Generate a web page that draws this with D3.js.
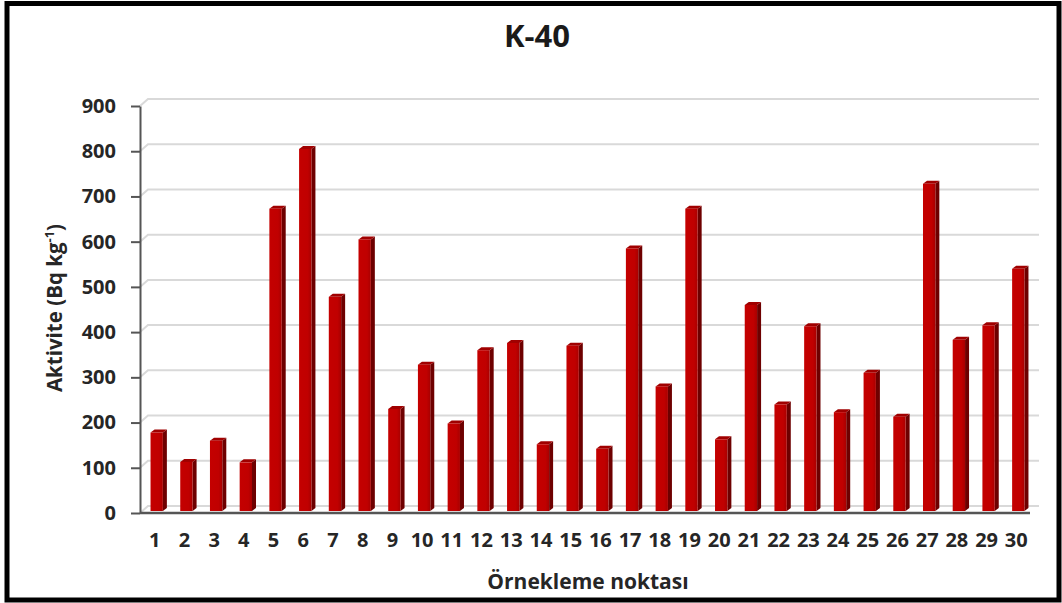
<!DOCTYPE html>
<html>
<head>
<meta charset="utf-8">
<script src="https://cdn.jsdelivr.net/npm/d3@7"></script>
<style>
  body { margin: 0; background: #fff; }
  svg text { font-family: "Open Sans", "Liberation Sans", sans-serif; font-weight: bold; }
</style>
</head>
<body>
<div id="chart"></div>
<script>
// data
var points = d3.range(1, 31).map(String);
var k40 = [178, 113, 160, 112, 673, 805, 478, 605, 230, 328,
           198, 360, 376, 152, 370, 142, 585, 280, 673, 163,
           460, 240, 413, 223, 310, 213, 728, 383, 415, 540];
var yTicks = [0, 100, 200, 300, 400, 500, 600, 700, 800, 900];

var width = 1062, height = 603;
var plotLeft = 140, plotRight = 1032, plotTop = 106, plotBottom = 513;
var wallDx = 8, wallDy = -7;   // depth of back wall
var barDx = 4, barDy = -3;     // depth of each bar

var svg = d3.select("#chart").append("svg")
    .attr("width", width).attr("height", height);

var defs = svg.append("defs");
var grad = defs.append("linearGradient").attr("id", "front")
    .attr("x1", 0).attr("x2", 1).attr("y1", 0).attr("y2", 0);
grad.append("stop").attr("offset", "0%").attr("stop-color", "#c40000");
grad.append("stop").attr("offset", "70%").attr("stop-color", "#c00000");
grad.append("stop").attr("offset", "100%").attr("stop-color", "#a80000");

var x = d3.scaleBand().domain(points).range([plotLeft + 1, plotRight]).paddingInner(0.45).paddingOuter(0.22);
var y = d3.scaleLinear().domain([0, 900]).range([plotBottom, plotTop]);

// gridlines on the back wall
svg.append("g").selectAll("path")
  .data(yTicks)
  .enter().append("path")
    .attr("d", function(t) {
      return "M" + plotLeft + "," + y(t) + "L" + (plotLeft + wallDx) + "," + (y(t) + wallDy) +
             "L" + (plotRight + 7) + "," + (y(t) + wallDy);
    })
    .attr("fill", "none")
    .attr("stroke", "#d9d9d9")
    .attr("stroke-width", 2);

// bars (sit a little deeper than the axis, hence the shift)
var bw = x.bandwidth() - barDx;
var base = plotBottom - 2;
var bars = svg.append("g")
    .attr("transform", "translate(3,0)")
  .selectAll("g")
  .data(k40)
  .enter().append("g");

bars.append("path")
    .attr("d", function(d, i) {
      var x0 = x(points[i]) + bw, yt = y(d);
      return "M" + x0 + "," + yt + "L" + (x0 + barDx) + "," + (yt + barDy) +
             "L" + (x0 + barDx) + "," + (base + barDy) + "L" + x0 + "," + base + "Z";
    })
    .attr("fill", "#6e0000");

bars.append("path")
    .attr("d", function(d, i) {
      var x0 = x(points[i]), yt = y(d);
      return "M" + x0 + "," + yt + "L" + (x0 + barDx) + "," + (yt + barDy) +
             "L" + (x0 + bw + barDx) + "," + (yt + barDy) + "L" + (x0 + bw) + "," + yt + "Z";
    })
    .attr("fill", "#a00000");

bars.append("rect")
    .attr("x", function(d, i) { return x(points[i]); })
    .attr("y", function(d) { return y(d); })
    .attr("width", bw)
    .attr("height", function(d) { return base - y(d); })
    .attr("fill", "url(#front)");

// axes
var yAxis = svg.append("g")
    .attr("transform", "translate(" + plotLeft + ",0)")
    .call(d3.axisLeft(y).tickValues(yTicks).tickSize(9).tickSizeOuter(0).tickPadding(15));
yAxis.select(".domain").attr("stroke", "#555").attr("stroke-width", 2);
yAxis.selectAll(".tick line").attr("stroke", "#555").attr("stroke-width", 2);
yAxis.selectAll("text").attr("font-size", 20).attr("fill", "#262626");

var xAxis = svg.append("g")
    .attr("transform", "translate(0," + plotBottom + ")")
    .call(d3.axisBottom(x).tickSize(0).tickPadding(20));
xAxis.select(".domain")
    .attr("d", "M" + plotLeft + ",0H" + (plotRight - 2))
    .attr("stroke", "#555").attr("stroke-width", 2.5);
xAxis.selectAll("text").attr("font-size", 20).attr("dx", -1).attr("fill", "#262626");

// titles
svg.append("text")
    .attr("x", 537).attr("y", 47)
    .attr("text-anchor", "middle")
    .attr("font-size", 31)
    .attr("fill", "#1a1a1a")
    .text("K-40");

svg.append("text")
    .attr("x", 588).attr("y", 589)
    .attr("text-anchor", "middle")
    .attr("font-size", 21)
    .attr("fill", "#262626")
    .text("Örnekleme noktası");

var ytitle = svg.append("text")
    .attr("transform", "translate(62,308) rotate(-90)")
    .attr("text-anchor", "middle")
    .attr("font-size", 20.5)
    .attr("fill", "#262626");
ytitle.append("tspan").text("Aktivite (Bq kg");
ytitle.append("tspan").attr("dy", -8).attr("font-size", 13).text("-1");
ytitle.append("tspan").attr("dy", 8).text(")");

// outer frame
svg.append("rect")
    .attr("x", 7).attr("y", 3.5)
    .attr("width", 1052).attr("height", 596.5)
    .attr("fill", "none")
    .attr("stroke", "#000")
    .attr("stroke-width", 5);
</script>
</body>
</html>
